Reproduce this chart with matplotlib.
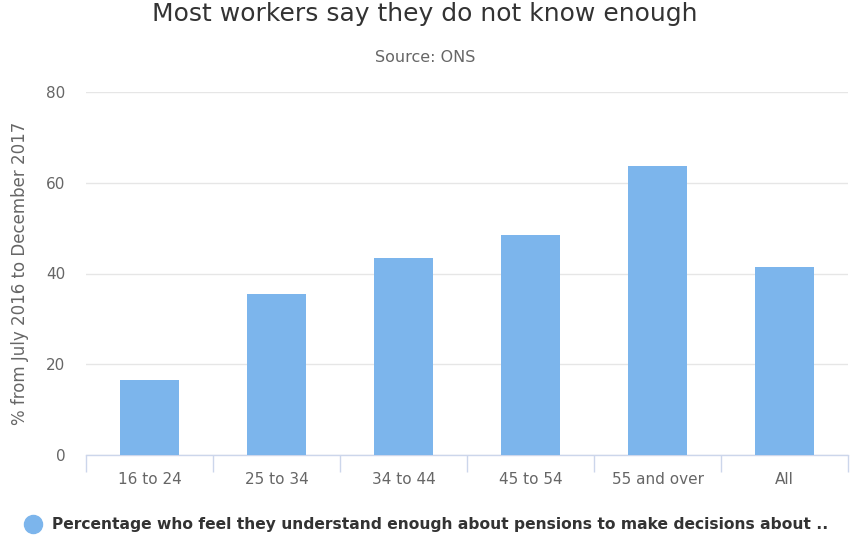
import numpy as np
import matplotlib
matplotlib.use("Agg")
from matplotlib import pyplot as plt
from matplotlib.lines import Line2D

# Data
CATEGORIES = ["16 to 24", "25 to 34", "34 to 44", "45 to 54", "55 and over", "All"]
VALUES = [16.5, 35.5, 43.5, 48.5, 63.7, 41.5]
Y_TICKS = [0, 20, 40, 60, 80]

TITLE = "Most workers say they do not know enough"
SUBTITLE = "Source: ONS"
Y_LABEL = "% from July 2016 to December 2017"
LEGEND_TEXT = "Percentage who feel they understand enough about pensions to make decisions about .."

BAR_COLOR = "#7cb5ec"
GRID_COLOR = "#e6e6e6"
AXIS_COLOR = "#ccd6eb"
LABEL_COLOR = "#666666"

plt.rcParams["font.family"] = ["DejaVu Sans"]

W, H = 850, 542
fig = plt.figure(figsize=(W / 100, H / 100), dpi=100)
ax = fig.add_axes([86 / W, 1 - 455 / H, (848 - 86) / W, (455 - 92) / H])

x = np.arange(len(CATEGORIES))
ax.bar(x, VALUES, width=0.47, color=BAR_COLOR, zorder=3)

ax.set_xlim(-0.5, len(CATEGORIES) - 0.5)
ax.set_ylim(0, 80)
ax.set_yticks(Y_TICKS)
ax.set_yticklabels([str(t) for t in Y_TICKS], color=LABEL_COLOR, fontsize=11)
ax.tick_params(axis="y", length=0, pad=15)

ax.set_xticks(x)
ax.set_xticklabels(CATEGORIES, color=LABEL_COLOR, fontsize=11)
ax.tick_params(axis="x", length=0, pad=12)
# tick marks at the category boundaries
ax.set_xticks(np.arange(-0.5, len(CATEGORIES)), minor=True)
ax.tick_params(axis="x", which="minor", length=12, color=AXIS_COLOR, width=1)

ax.grid(axis="y", color=GRID_COLOR, linewidth=1, zorder=0)
for side in ["top", "right", "left"]:
    ax.spines[side].set_visible(False)
ax.spines["bottom"].set_color(AXIS_COLOR)
ax.spines["bottom"].set_linewidth(1)

ax.set_ylabel(Y_LABEL, color=LABEL_COLOR, fontsize=12, va="center")
ax.yaxis.set_label_coords((20 - 86) / 762, 0.5)

fig.text(425 / W, 1 - 14 / H, TITLE, ha="center", va="center", fontsize=18, color="#333333")
fig.text(425 / W, 1 - 57 / H, SUBTITLE, ha="center", va="center", fontsize=11.5, color=LABEL_COLOR)

# legend at the bottom
fig.add_artist(Line2D([33 / W], [1 - 524 / H], marker="o", markersize=13,
                      color=BAR_COLOR, linestyle="none"))
fig.text(52 / W, 1 - 524 / H, LEGEND_TEXT, ha="left", va="center",
         fontsize=11.2, fontweight="bold", color="#333333")

plt.savefig("out.png", dpi=100)
